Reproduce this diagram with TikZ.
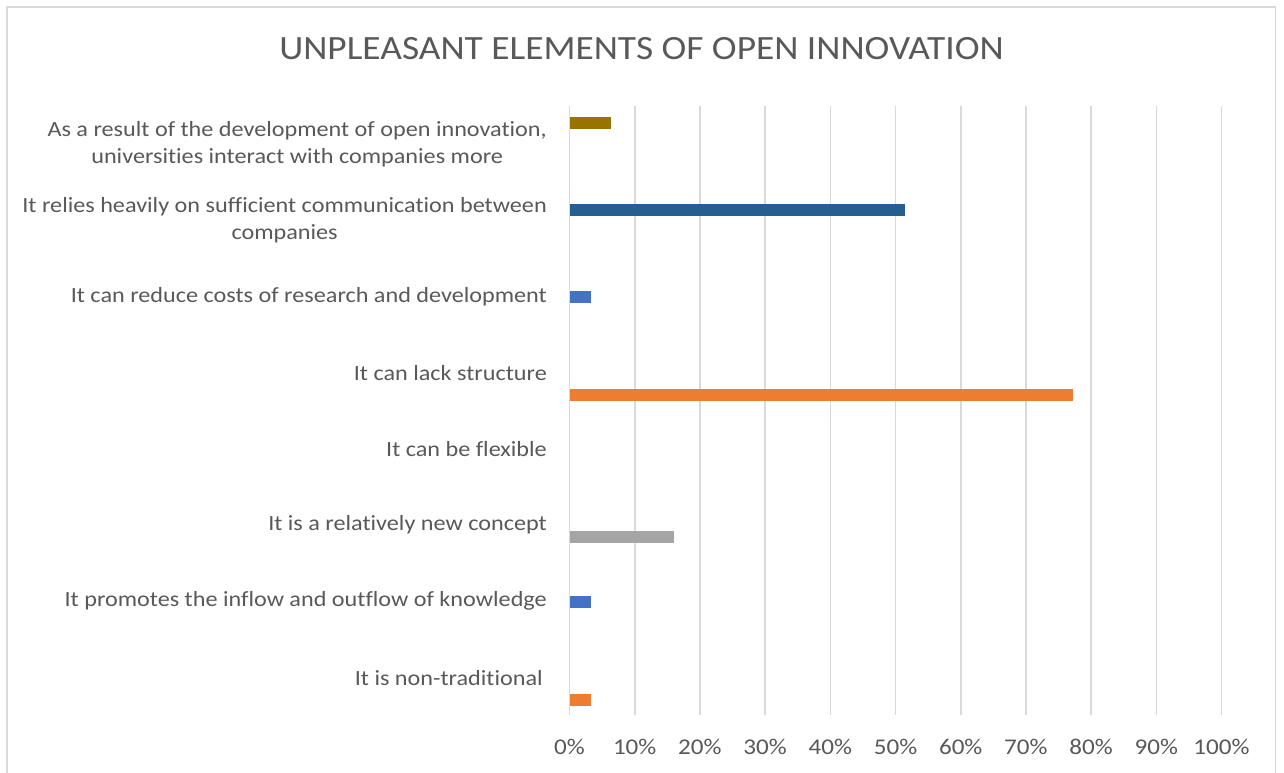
\documentclass[tikz,border=0pt]{standalone}
\usepackage{fontspec}
\usepackage{graphicx}
\setmainfont[Ligatures={NoCommon}]{Carlito}
\definecolor{txt}{HTML}{595959}
\definecolor{grid}{HTML}{D9D9D9}
\definecolor{cgold}{HTML}{997300}
\definecolor{cdblue}{HTML}{255E91}
\definecolor{cblue}{HTML}{4472C4}
\definecolor{corange}{HTML}{ED7D31}
\definecolor{cgray}{HTML}{A5A5A5}
\newcommand{\wide}[1]{\scalebox{1.115}[1]{#1}}
\newcommand{\twoline}[2]{\wide{\begin{tabular}{@{}c@{}}#1\\#2\end{tabular}}}
\tikzset{
  catlabel/.style={anchor=east, text=txt, font=\fontsize{21.7}{27}\selectfont, inner sep=0pt},
  ticklabel/.style={anchor=center, text=txt, font=\fontsize{22.5}{26}\selectfont, inner sep=0pt},
  gridline/.style={draw=grid, line width=1.6pt}
}
\begin{document}
\begin{tikzpicture}[x=1pt,y=-1pt]
\useasboundingbox (0,0) rectangle (1284,772);
\fill[white] (0,0) rectangle (1284,772);
\draw[grid, line width=1.6pt] (7,780) -- (7,7) -- (1275.5,7) -- (1275.5,780);
% title
\node[text=txt, font=\fontsize{34}{40}\selectfont, inner sep=0pt] (title) at (641.5,49) {\scalebox{1.1}[1]{UNPLEASANT ELEMENTS OF OPEN INNOVATION}};
% gridlines
\foreach \i in {0,...,10} {
  \draw[gridline] ({569.5+65.2*\i},106) -- ({569.5+65.2*\i},715);
}
% tick labels
\foreach \i/\t in {0/0\%,1/10\%,2/20\%,3/30\%,4/40\%,5/50\%,6/60\%,7/70\%,8/80\%,9/90\%,10/100\%} {
  \node[ticklabel] (t\i) at ({569.5+65.2*\i},747) {\wide{\t}};
}
% category labels
\node[catlabel] (c1) at (547,144.5) {\twoline{As a result of the development of open innovation,}{universities interact with companies more}};
\node[catlabel] (c2) at (547,220.5) {\twoline{It relies heavily on sufficient communication between}{companies}};
\node[catlabel] (c3) at (547,297) {\wide{It can reduce costs of research and development}};
\node[catlabel] (c4) at (547,373) {\wide{It can lack structure}};
\node[catlabel] (c5) at (547,449) {\wide{It can be flexible}};
\node[catlabel] (c6) at (547,525) {\wide{It is a relatively new concept}};
\node[catlabel] (c7) at (547,601) {\wide{It promotes the inflow and outflow of knowledge}};
\node[catlabel] (c8) at (547,678) {\wide{It is non-traditional\,}};
% bars
\fill[cgold]   (570,117) rectangle (611,129);
\fill[cdblue]  (570,204) rectangle (905,215.5);
\fill[cblue]   (570,291) rectangle (591,303);
\fill[corange] (570,389) rectangle (1072.5,401);
\fill[cgray]   (570,531) rectangle (674,543);
\fill[cblue]   (570,596) rectangle (591,608);
\fill[corange] (570,694) rectangle (591,706);
\end{tikzpicture}
\end{document}
